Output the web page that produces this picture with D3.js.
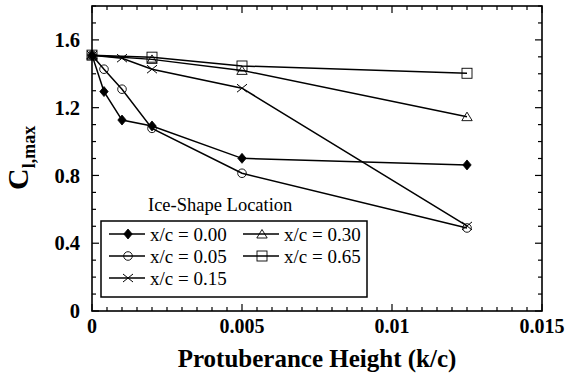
<!DOCTYPE html>
<html>
<head>
<meta charset="utf-8">
<script src="https://cdn.jsdelivr.net/npm/d3@7"></script>
<style>
  html, body { margin: 0; padding: 0; background: #fff; }
  svg { display: block; }
</style>
</head>
<body>
<svg id="chart" width="567" height="378"></svg>
<script>
// ---- data ----
const xTicks = [0, 0.005, 0.01, 0.015];
const xTickLabels = ["0", "0.005", "0.01", "0.015"];
const yTicks = [0, 0.4, 0.8, 1.2, 1.6];
const yTickLabels = ["0", "0.4", "0.8", "1.2", "1.6"];

const kc_000 = [0, 0.0004, 0.001, 0.002, 0.005, 0.0125];
const cl_000 = [1.51, 1.295, 1.127, 1.092, 0.901, 0.862];
const kc_005 = [0, 0.0004, 0.001, 0.002, 0.005, 0.0125];
const cl_005 = [1.51, 1.427, 1.309, 1.078, 0.813, 0.49];
const kc_015 = [0, 0.001, 0.002, 0.005, 0.0125];
const cl_015 = [1.51, 1.492, 1.427, 1.315, 0.502];
const kc_030 = [0, 0.002, 0.005, 0.0125];
const cl_030 = [1.51, 1.485, 1.42, 1.147];
const kc_065 = [0, 0.002, 0.005, 0.0125];
const cl_065 = [1.51, 1.498, 1.446, 1.403];

const seriesNames = ["x/c = 0.00", "x/c = 0.05", "x/c = 0.15", "x/c = 0.30", "x/c = 0.65"];
const seriesMarkers = ["diamond", "circle", "x", "triangle", "square"];

const series = [
  {name: seriesNames[0], marker: seriesMarkers[0], xs: kc_000, ys: cl_000},
  {name: seriesNames[1], marker: seriesMarkers[1], xs: kc_005, ys: cl_005},
  {name: seriesNames[2], marker: seriesMarkers[2], xs: kc_015, ys: cl_015},
  {name: seriesNames[3], marker: seriesMarkers[3], xs: kc_030, ys: cl_030},
  {name: seriesNames[4], marker: seriesMarkers[4], xs: kc_065, ys: cl_065}
];

// ---- layout ----
const W = 567, H = 378;
const m = {left: 92, right: 25, top: 6, bottom: 67};
const pw = W - m.left - m.right, ph = H - m.top - m.bottom;
const svg = d3.select("#chart");
const g = svg.append("g").attr("transform", `translate(${m.left},${m.top})`);

const x = d3.scaleLinear().domain([0, 0.015]).range([0, pw]);
const y = d3.scaleLinear().domain([0, 1.8]).range([ph, 0]);

const serif = "'Liberation Serif', 'Times New Roman', serif";

// ---- ticks (inward, all four sides) ----
const xMinor = d3.range(0, 0.01501, 0.0005);
const yMinor = d3.range(0, 1.801, 0.1);
const isMajorX = v => xTicks.some(t => Math.abs(t - v) < 1e-9);
const isMajorY = v => yTicks.some(t => Math.abs(t - v) < 1e-9);
const tg = g.append("g").attr("stroke", "#000").attr("stroke-width", 1.2);
xMinor.forEach(v => {
  const L = isMajorX(v) ? 7 : 4;
  tg.append("line").attr("x1", x(v)).attr("x2", x(v)).attr("y1", ph).attr("y2", ph - L);
  tg.append("line").attr("x1", x(v)).attr("x2", x(v)).attr("y1", 0).attr("y2", L);
});
yMinor.forEach(v => {
  const L = isMajorY(v) ? 7 : 4;
  tg.append("line").attr("y1", y(v)).attr("y2", y(v)).attr("x1", 0).attr("x2", L);
  tg.append("line").attr("y1", y(v)).attr("y2", y(v)).attr("x1", pw).attr("x2", pw - L);
});

// frame
g.append("rect").attr("x", 0).attr("y", 0).attr("width", pw).attr("height", ph)
  .attr("fill", "none").attr("stroke", "#000").attr("stroke-width", 1.6);

// tick labels
xTicks.forEach((v, i) => {
  g.append("text").attr("x", x(v)).attr("y", ph + 22)
    .attr("text-anchor", "middle").attr("font-family", serif).attr("font-weight", "bold")
    .attr("font-size", 20).text(xTickLabels[i]);
});
yTicks.forEach((v, i) => {
  g.append("text").attr("x", -12).attr("y", y(v)).attr("dy", "0.35em")
    .attr("text-anchor", "end").attr("font-family", serif).attr("font-weight", "bold")
    .attr("font-size", 20.5).text(yTickLabels[i]);
});

// axis titles
svg.append("text").attr("x", m.left + pw / 2).attr("y", 367)
  .attr("text-anchor", "middle").attr("font-family", serif).attr("font-weight", "bold")
  .attr("font-size", 25).text("Protuberance Height (k/c)");

const yt = svg.append("text").attr("transform", "translate(28,190) rotate(-90)")
  .attr("font-family", serif).attr("font-weight", "bold");
yt.append("tspan").attr("font-size", 30).text("C");
yt.append("tspan").attr("font-size", 18).attr("dy", 7).text("l,max");

// ---- markers ----
function drawMarker(sel, type, cx, cy) {
  if (type === "diamond") {
    sel.append("path").attr("d", `M${cx},${cy-5}L${cx+4.2},${cy}L${cx},${cy+5}L${cx-4.2},${cy}Z`)
      .attr("fill", "#000").attr("stroke", "#000").attr("stroke-width", 0.8);
  } else if (type === "circle") {
    sel.append("circle").attr("cx", cx).attr("cy", cy).attr("r", 4.3)
      .attr("fill", "none").attr("stroke", "#000").attr("stroke-width", 0.9);
  } else if (type === "x") {
    sel.append("path").attr("d", `M${cx-5},${cy-4}L${cx+5},${cy+4}M${cx-5},${cy+4}L${cx+5},${cy-4}`)
      .attr("fill", "none").attr("stroke", "#000").attr("stroke-width", 1);
  } else if (type === "triangle") {
    sel.append("path").attr("d", `M${cx},${cy-4.5}L${cx+5.2},${cy+4}L${cx-5.2},${cy+4}Z`)
      .attr("fill", "none").attr("stroke", "#000").attr("stroke-width", 0.9);
  } else if (type === "square") {
    sel.append("rect").attr("x", cx - 5).attr("y", cy - 5).attr("width", 10).attr("height", 10)
      .attr("fill", "none").attr("stroke", "#000").attr("stroke-width", 0.9);
  }
}

const line = d3.line().x(d => x(d[0])).y(d => y(d[1]));
const dg = g.append("g");
series.forEach(s => {
  const pts = s.xs.map((v, i) => [v, s.ys[i]]);
  dg.append("path").datum(pts).attr("d", line)
    .attr("fill", "none").attr("stroke", "#000").attr("stroke-width", 1.5);
});
series.forEach(s => {
  s.xs.forEach((v, i) => drawMarker(dg, s.marker, x(v), y(s.ys[i])));
});

// ---- legend ----
svg.append("text").attr("x", 148).attr("y", 211)
  .attr("font-family", serif).attr("font-size", 18.5).text("Ice-Shape Location");
svg.append("rect").attr("x", 101).attr("y", 221).attr("width", 266).attr("height", 76)
  .attr("fill", "#fff").attr("stroke", "#000").attr("stroke-width", 1.5);

const legPos = [
  {lx: 109, ly: 234}, {lx: 109, ly: 256}, {lx: 109, ly: 278},
  {lx: 243, ly: 234}, {lx: 243, ly: 256}
];
series.forEach((s, i) => {
  const p = legPos[i];
  svg.append("line").attr("x1", p.lx).attr("x2", p.lx + 36).attr("y1", p.ly).attr("y2", p.ly)
    .attr("stroke", "#000").attr("stroke-width", 1.5);
  drawMarker(svg, s.marker, p.lx + 19, p.ly);
  svg.append("text").attr("x", p.lx + 41).attr("y", p.ly + 6.5)
    .attr("font-family", serif).attr("font-size", 19).text(s.name);
});
</script>
</body>
</html>
